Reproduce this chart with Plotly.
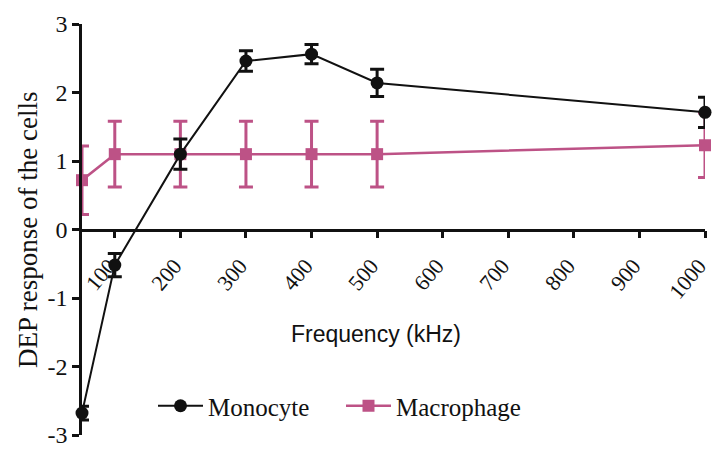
import plotly.graph_objects as go

freq = [50, 100, 200, 300, 400, 500, 1000]
mono = [-2.68, -0.52, 1.10, 2.46, 2.56, 2.14, 1.71]
mono_err = [0.10, 0.17, 0.22, 0.15, 0.14, 0.20, 0.22]
macro = [0.72, 1.10, 1.10, 1.10, 1.10, 1.10, 1.23]
macro_err = [0.50, 0.48, 0.48, 0.48, 0.48, 0.48, 0.47]
xticks = [100, 200, 300, 400, 500, 600, 700, 800, 900, 1000]
yticks = [-3, -2, -1, 0, 1, 2, 3]

BLACK = "#111111"
PINK = "#BD5286"
TIMES = "Liberation Serif, Times New Roman, serif"

L, R, T, B = 82, 7, 24, 14
PW, PH = 712 - L - R, 449 - T - B

fig = go.Figure()
fig.add_trace(go.Scatter(
    x=freq, y=macro, name="Macrophage", mode="lines+markers",
    line=dict(color=PINK, width=2.5),
    marker=dict(symbol="square", size=12, color=PINK),
    error_y=dict(type="data", array=macro_err, color=PINK, thickness=3, width=7),
    cliponaxis=False, showlegend=True,
))
fig.add_trace(go.Scatter(
    x=freq, y=mono, name="Monocyte", mode="lines+markers",
    line=dict(color=BLACK, width=2),
    marker=dict(symbol="circle", size=13, color=BLACK),
    error_y=dict(type="data", array=mono_err, color=BLACK, thickness=3, width=7),
    cliponaxis=False, showlegend=True,
))

fig.update_layout(
    width=712, height=449,
    margin=dict(l=L, r=R, t=T, b=B, autoexpand=False),
    paper_bgcolor="white", plot_bgcolor="white",
    font=dict(family=TIMES, size=22, color=BLACK),
    showlegend=True,
    xaxis=dict(
        range=[50, 1000], tickvals=xticks, ticktext=[str(v) for v in xticks],
        tickangle=-50, ticks="outside", ticklen=7, tickwidth=2.5, tickcolor=BLACK,
        showline=True, linecolor=BLACK, linewidth=2.5, showgrid=False, zeroline=False,
        anchor="free", position=0.5, tickfont=dict(family=TIMES, size=22),
        automargin=False, ticklabeloverflow="allow",
        ticklabelstandoff=6, ticklabelshift=-6,
    ),
    yaxis=dict(
        range=[-3, 3], tickvals=yticks, ticktext=[str(v) for v in yticks],
        ticks="outside", ticklen=7, tickwidth=2.5,
        tickcolor=BLACK, showline=True, linecolor=BLACK, linewidth=2.5,
        showgrid=False, zeroline=False, tickfont=dict(family=TIMES, size=24),
        automargin=False, ticklabeloverflow="allow",
    ),
    legend=dict(orientation="h", x=(153 - L) / PW, y=(449 - B - 406) / PH,
                xanchor="left", yanchor="middle", bgcolor="rgba(0,0,0,0)",
                traceorder="reversed", entrywidth=128, itemwidth=45,
                font=dict(family=TIMES, size=25)),
    annotations=[
        dict(text="DEP response of the cells", xref="paper", yref="paper",
             x=(28 - L) / PW, y=(449 - B - 230) / PH, textangle=-90,
             showarrow=False, xanchor="center", yanchor="middle",
             font=dict(family=TIMES, size=27)),
        dict(text="Frequency (kHz)", xref="paper", yref="paper",
             x=(376 - L) / PW, y=(449 - B - 334) / PH,
             showarrow=False, xanchor="center", yanchor="middle",
             font=dict(family="Liberation Sans, Arial, sans-serif", size=23)),
    ],
)

fig.write_html("out.html", config={"displayModeBar": False})
with open("out.html", encoding="utf-8") as f:
    html = f.read()
html = html.replace("<head>", "<head><style>html,body{margin:0;padding:0;overflow:hidden;}</style>", 1)
with open("out.html", "w", encoding="utf-8") as f:
    f.write(html)
